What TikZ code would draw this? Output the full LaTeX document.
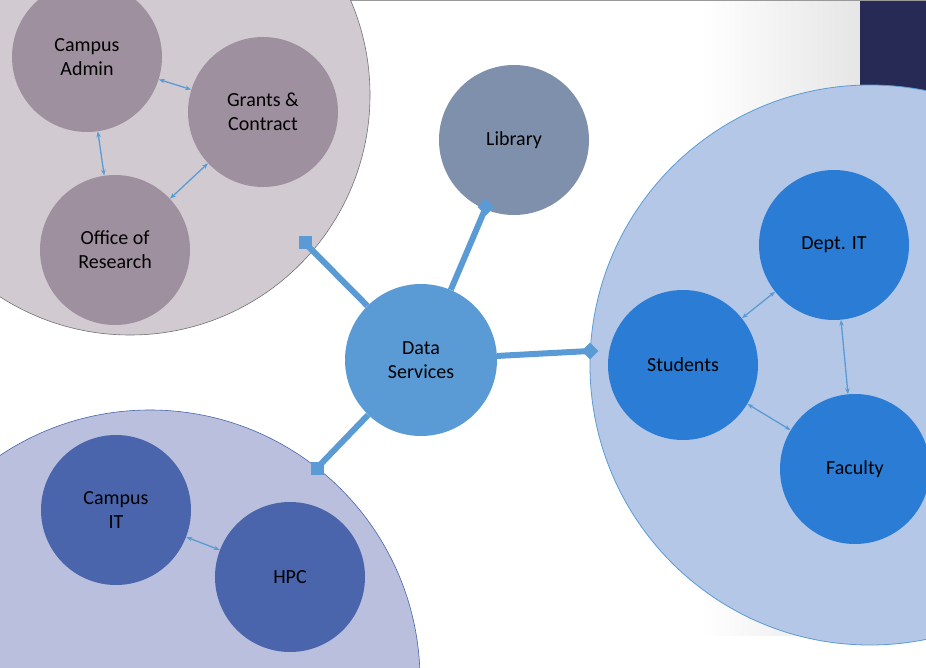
\documentclass[tikz,border=0pt]{standalone}
\usepackage{fontspec}
\setmainfont{Carlito}
\usetikzlibrary{arrows.meta}
\definecolor{cPur}{HTML}{9F909F}
\definecolor{cBlu}{HTML}{2B7CD5}
\definecolor{cInd}{HTML}{4A65AC}
\definecolor{cLine}{HTML}{5B9BD5}
\definecolor{cNavy}{HTML}{262A55}
\definecolor{cBigA}{HTML}{D1CBD1}
\definecolor{cBigB}{HTML}{B9BFDC}
\definecolor{cBigC}{HTML}{B4C7E7}
\definecolor{cLib}{HTML}{7F90AD}
\begin{document}
\begin{tikzpicture}[x=1pt,y=-1pt,
  sm/.style={circle,minimum size=150pt,inner sep=0pt,align=center,font=\fontsize{20}{24}\selectfont},
  pur/.style={sm,fill=cPur},
  blu/.style={sm,fill=cBlu},
  ind/.style={sm,fill=cInd},
  dbl/.style={draw=cLine,line width=1.3pt,{Stealth[length=6pt]}-{Stealth[length=6pt]}},
  spoke/.style={draw=cLine,line width=6pt},
  sq/.style={fill=cLine,minimum size=13pt,inner sep=0pt,rectangle},
  dia/.style={fill=cLine,minimum size=12pt,inner sep=0pt,rectangle,rotate=45}]
\useasboundingbox (0,0) rectangle (926,668);
\fill[white] (0,0) rectangle (926,668);
\shade[left color=white,right color=black!10] (700,0) rectangle (860,635);
\fill[cNavy] (860,0) rectangle (926,635);
\draw[black!40,line width=1pt] (0,0.5) -- (926,0.5);
% big circles
\draw[fill=cBigA,draw=black!55,line width=0.6pt] (130,95) circle (240);
\draw[fill=cBigB,draw=cInd,line width=0.6pt] (150,680) circle (270);
\draw[fill=cBigC,draw=cLine,line width=0.8pt] (870,365) circle (280);
% nodes
\node[pur] (ca) at (87,57) {Campus\\Admin};
\node[pur] (gc) at (263,112) {Grants \&\\Contract};
\node[pur] (or) at (115,250) {Office of\\Research};
\node[sm,fill=cLib] (lib) at (514,140) {Library};
\node[sm,fill=cLine,minimum size=152pt] (ds) at (421,360) {Data\\Services};
\node[blu] (st) at (683,365) {Students};
\node[blu] (dit) at (834,245) {Dept. IT};
\node[blu] (fa) at (855,469) {Faculty};
\node[ind] (cit) at (116,510) {Campus\\IT};
\node[ind] (hpc) at (290,577) {HPC};
% spoke ends
\node[sq] (e1) at (305,243) {};
\node[dia] (e2) at (486,207) {};
\node[dia] (e3) at (590,351) {};
\node[sq] (e4) at (317,468) {};
\draw[spoke] (ds) -- (e1.center);
\draw[spoke] (ds) -- (e2.center);
\draw[spoke] (ds) -- (e3.center);
\draw[spoke] (ds) -- (e4.center);
% double arrows
\draw[dbl] (ca) -- (gc);
\draw[dbl] (ca) -- (or);
\draw[dbl] (or) -- (gc);
\draw[dbl] (dit) -- (st);
\draw[dbl] (dit) -- (fa);
\draw[dbl] (st) -- (fa);
\draw[dbl] (cit) -- (hpc);
\end{tikzpicture}
\end{document}
